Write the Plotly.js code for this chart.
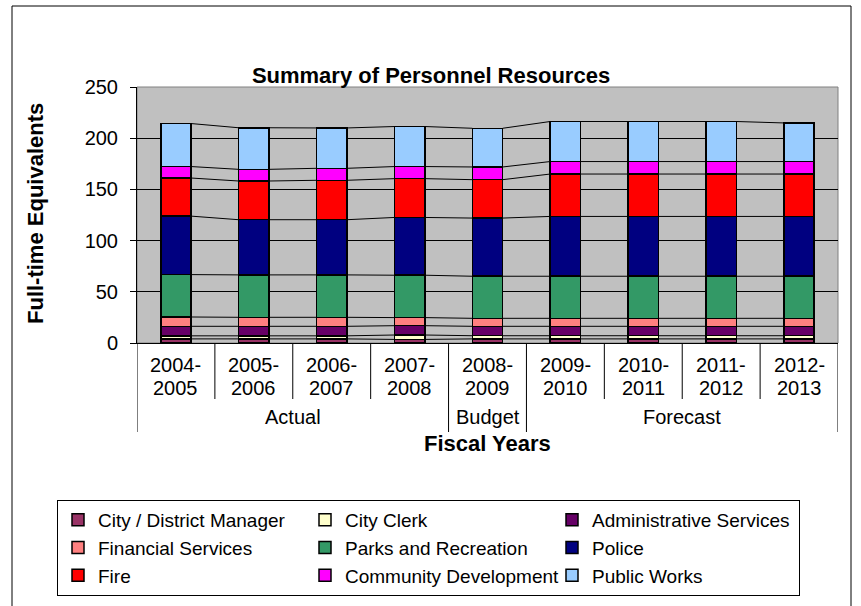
<!DOCTYPE html>
<html>
<head>
<meta charset="utf-8">
<script src="https://cdn.plot.ly/plotly-3.0.1.min.js"></script>
<style>html,body{margin:0;padding:0;background:#fff;}#chart{width:861px;height:606px;}</style>
</head>
<body>
<div id="chart"></div>
<script>
// ---- data ----
const years = ['2004-2005','2005-2006','2006-2007','2007-2008','2008-2009','2009-2010','2010-2011','2011-2012','2012-2013'];
const groups = ['Actual','Actual','Actual','Actual','Budget','Forecast','Forecast','Forecast','Forecast'];
const seriesNames = ['City / District Manager','City Clerk','Administrative Services','Financial Services','Parks and Recreation','Police','Fire','Community Development','Public Works'];
const cityManager = [4, 4, 4, 3.5, 4, 4, 4, 4, 4];
const cityClerk = [3, 3, 3, 4.3, 3.1, 3.1, 3.1, 3.1, 3.1];
const adminServices = [9.3, 9.3, 9.3, 9.1, 9.2, 9.2, 9.2, 9.2, 9.2];
const financialServices = [9.1, 8.8, 8.8, 7.9, 7.8, 7.8, 7.8, 7.8, 7.8];
const parksRec = [41.4, 41.4, 41.4, 41.4, 41.1, 41.1, 41.1, 41.1, 41.1];
const police = [57.1, 53.9, 53.9, 56.4, 56.8, 58.4, 58.4, 58.4, 58.4];
const fire = [37.2, 37.8, 38.5, 37.9, 37.5, 41.4, 41.4, 41.4, 41.4];
const communityDev = [11.2, 11.4, 11.7, 11.8, 12.4, 12.2, 12.2, 12.2, 12.2];
const publicWorks = [42.0, 40.6, 39.4, 39.1, 37.8, 39.1, 39.1, 39.1, 37.7];
const yTicks = [0, 50, 100, 150, 200, 250];

// ---- styles ----
const colors = ['#993366','#FFFFCC','#660066','#FF8080','#339966','#000080','#FF0000','#FF00FF','#99CCFF'];
const seriesValues = [cityManager, cityClerk, adminServices, financialServices, parksRec, police, fire, communityDev, publicWorks];
const FONT = 'Arial, "Liberation Sans", sans-serif';
const FS = 20, FSB = 22, FSL = 19;
const BARW = 0.39;
const W = 861, H = 606, L = 137, R = 23, T = 87, B = 263;
const PW = W - L - R, PH = H - T - B;
const px = x => (x - L) / PW;
const py = y => (H - B - y) / PH;

const xIdx = years.map((_, i) => i);
const traces = [];
seriesValues.forEach((vals, k) => {
  traces.push({
    type: 'bar', x: xIdx, y: vals, name: seriesNames[k], width: BARW,
    marker: {color: colors[k], line: {color: '#000', width: 1.5}},
    hoverinfo: 'name+y'
  });
});
// series lines connecting the top of each series
const cum = years.map(() => 0);
seriesValues.forEach(vals => {
  const lx = [], ly = [];
  vals.forEach((v, i) => { cum[i] += v; });
  for (let i = 0; i < years.length - 1; i++) {
    lx.push(i + BARW / 2, i + 1 - BARW / 2, null);
    ly.push(cum[i], cum[i + 1], null);
  }
  traces.push({type: 'scatter', mode: 'lines', x: lx, y: ly, showlegend: false,
    hoverinfo: 'skip', line: {color: '#000', width: 1}});
});

const shapes = [];
// outer chart border
shapes.push({type: 'rect', xref: 'paper', yref: 'paper', x0: px(12), x1: px(851), y0: py(615), y1: py(6),
  line: {color: '#000', width: 1}, fillcolor: 'rgba(0,0,0,0)', layer: 'below'});
// plot area border (gray)
shapes.push({type: 'rect', xref: 'paper', yref: 'paper', x0: 0, x1: 1, y0: 0, y1: 1,
  line: {color: '#808080', width: 1}, fillcolor: 'rgba(0,0,0,0)', layer: 'below'});
// category separators
for (let i = 0; i <= years.length; i++) {
  const xb = i - 0.5;
  const isGroupEdge = i === 0 || i === years.length || groups[i] !== groups[i - 1];
  shapes.push({type: 'line', xref: 'x', yref: 'paper', x0: xb, x1: xb, y0: 0,
    y1: isGroupEdge ? py(432) : py(399), line: {color: '#000', width: 1}});
}
const annotations = [];
// year labels (two rows)
years.forEach((y, i) => {
  const parts = y.split('-');
  annotations.push({xref: 'x', yref: 'paper', x: i, y: py(365), text: parts[0] + '-', showarrow: false,
    font: {family: FONT, size: FS, color: '#000'}, xanchor: 'center', yanchor: 'middle'});
  annotations.push({xref: 'x', yref: 'paper', x: i, y: py(388), text: parts[1], showarrow: false,
    font: {family: FONT, size: FS, color: '#000'}, xanchor: 'center', yanchor: 'middle'});
});
// group labels
const groupNames = [...new Set(groups)];
groupNames.forEach(g => {
  const idx = xIdx.filter(i => groups[i] === g);
  const c = (idx[0] + idx[idx.length - 1]) / 2;
  annotations.push({xref: 'x', yref: 'paper', x: c, y: py(417), text: g, showarrow: false,
    font: {family: FONT, size: FS, color: '#000'}, xanchor: 'center', yanchor: 'middle'});
});
annotations.push({xref: 'paper', yref: 'paper', x: px(487), y: py(443), text: '<b>Fiscal Years</b>', showarrow: false,
  font: {family: FONT, size: FSB, color: '#000'}, xanchor: 'center', yanchor: 'middle'});
annotations.push({xref: 'paper', yref: 'paper', x: px(35), y: py(214), text: '<b>Full-time Equivalents</b>', showarrow: false,
  textangle: -90, font: {family: FONT, size: FSB, color: '#000'}, xanchor: 'center', yanchor: 'middle'});

const layout = {
  width: W, height: H,
  margin: {l: L, r: R, t: T, b: B, autoexpand: false},
  paper_bgcolor: '#fff', plot_bgcolor: '#C0C0C0',
  barmode: 'stack',
  font: {family: FONT, size: FS, color: '#000'},
  title: {text: '<b>Summary of Personnel Resources</b>', font: {family: FONT, size: FSB, color: '#000'},
    x: 431 / W, xref: 'container', xanchor: 'center', y: 1 - 75 / H, yref: 'container', yanchor: 'middle'},
  xaxis: {type: 'linear', range: [-0.5, years.length - 0.5], tickvals: xIdx, showticklabels: false,
    ticks: '', showgrid: false, zeroline: false,
    showline: true, linecolor: '#000', linewidth: 1, fixedrange: true},
  yaxis: {range: [0, 250], tickvals: yTicks, ticks: 'outside', ticklen: 6, tickcolor: '#000',
    ticklabelstandoff: 8,
    showline: true, linecolor: '#000', linewidth: 1, showgrid: true, gridcolor: '#000', gridwidth: 1,
    zeroline: false, tickfont: {family: FONT, size: FS, color: '#000'}, fixedrange: true},
  legend: {orientation: 'h', traceorder: 'normal', x: px(57), y: py(500), xanchor: 'left', yanchor: 'top',
    bordercolor: '#000', borderwidth: 1, bgcolor: '#fff', entrywidth: 202, entrywidthmode: 'pixels',
    font: {family: FONT, size: FSL, color: '#000'}, itemwidth: 30},
  shapes: shapes, annotations: annotations, showlegend: true
};
Plotly.newPlot('chart', traces, layout, {displayModeBar: false, staticPlot: true});
</script>
</body>
</html>
